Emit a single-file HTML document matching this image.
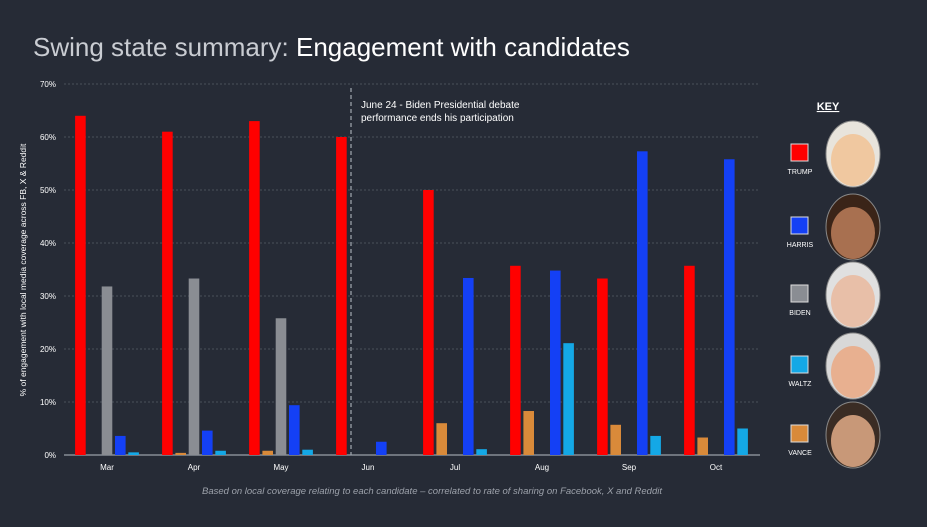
<!DOCTYPE html>
<html><head><meta charset="utf-8">
<style>
body{margin:0;background:#262b36;width:927px;height:522px;overflow:hidden;font-family:"Liberation Sans",sans-serif;}
</style></head>
<body>
<svg id="chart" width="927" height="522">
<text x="33" y="56" font-size="26" fill="#c9ccd2">Swing state summary: <tspan fill="#ffffff">Engagement with candidates</tspan></text>
<g id="grid"></g>
<g id="bars"></g>
<line x1="351" y1="88" x2="351" y2="455" stroke="#9aa0a8" stroke-width="1.3" stroke-dasharray="4,3"/>
<text x="361" y="108" font-size="10" fill="#fff">June 24 - Biden Presidential debate</text>
<text x="361" y="121" font-size="10" fill="#fff">performance ends his participation</text>
<text transform="translate(26,270) rotate(-90)" text-anchor="middle" font-size="8.5" fill="#fff">% of engagement with local media coverage across FB, X &amp; Reddit</text>
<text x="432" y="494" text-anchor="middle" font-size="9.5" font-style="italic" fill="#9ca1aa">Based on local coverage relating to each candidate – correlated to rate of sharing on Facebook, X and Reddit</text>
<g id="key"></g>
</svg>
<script>
const months=["Mar","Apr","May","Jun","Jul","Aug","Sep","Oct"];
const seriesNames=["TRUMP","VANCE","BIDEN","HARRIS","WALTZ"];
const trump=[64,61,63,60,50,35.7,33.3,35.7];
const vance=[0,0.4,0.8,0,6,8.3,5.7,3.3];
const biden=[31.8,33.3,25.8,0,0,0,0,0];
const harris=[3.6,4.6,9.4,2.5,33.4,34.8,57.3,55.8];
const waltz=[0.5,0.8,1,0,1.1,21.1,3.6,5];
const yTicks=[0,10,20,30,40,50,60,70];
const colors=["#ff0000","#d98a3a","#8a8d93","#1440f5","#14a8e6"];
const series=[trump,vance,biden,harris,waltz];
const NS="http://www.w3.org/2000/svg";
const y=v=>455-v*5.3;
const x=i=>107+i*87;
function mk(t,a,p){const e=document.createElementNS(NS,t);for(const k in a)e.setAttribute(k,a[k]);p.appendChild(e);return e;}
const grid=document.getElementById('grid');
yTicks.forEach(t=>{
  if(t>0){const l=mk('line',{x1:64,x2:760,y1:y(t),y2:y(t),stroke:'#4a505b','stroke-dasharray':'2,2','stroke-width':1},grid);
  
  }
  const tx=mk('text',{x:56,y:y(t)+3,'text-anchor':'end','font-size':8,fill:'#fff'},grid);tx.textContent=t+'%';
  
  
});
const ax=mk('line',{x1:64,x2:760,y1:455,y2:455,stroke:'#9aa0a8','stroke-width':1.2},grid);


months.forEach((m,i)=>{const t=mk('text',{x:x(i),y:470,'text-anchor':'middle','font-size':8,fill:'#fff'},grid);t.textContent=m;
  
  });
const bars=document.getElementById('bars');
series.forEach((s,si)=>s.forEach((v,i)=>{
  const cx=x(i)+(si-2)*13.3;
  const r=mk('rect',{x:cx-5.3,y:y(v),width:10.6,height:455-y(v),fill:colors[si]},bars);
  
  
}));
const key=document.getElementById('key');
const kt=mk('text',{x:828,y:110,'text-anchor':'middle','font-size':11,'font-weight':'bold',fill:'#fff','text-decoration':'underline'},key);kt.textContent='KEY';


const keyOrder=[0,3,2,4,1];const keyY=[152,225,293,364,433];const skins=["#f0c8a0","#a87050","#e8bfa8","#e8b090","#c89878"];const hair=["#e8e4dc","#3a2418","#e0e0e0","#d8d8d8","#3a2c24"];
keyOrder.forEach((si,k)=>{
  const yy=keyY[k];
  const r=mk('rect',{x:791,y:yy-8,width:17,height:17,fill:colors[si],stroke:'#ddd','stroke-width':1},key);
  
  
  const t=mk('text',{x:800,y:yy+22,'text-anchor':'middle','font-size':7,fill:'#fff'},key);t.textContent=seriesNames[si];
  
  
  const g=mk('g',{},key);
  
  
  mk('ellipse',{cx:853,cy:yy+2,rx:27,ry:33,fill:hair[k],stroke:'#888','stroke-width':1},g);
  mk('ellipse',{cx:853,cy:yy+8,rx:22,ry:26,fill:skins[k]},g);
});
</script>
</body></html>
